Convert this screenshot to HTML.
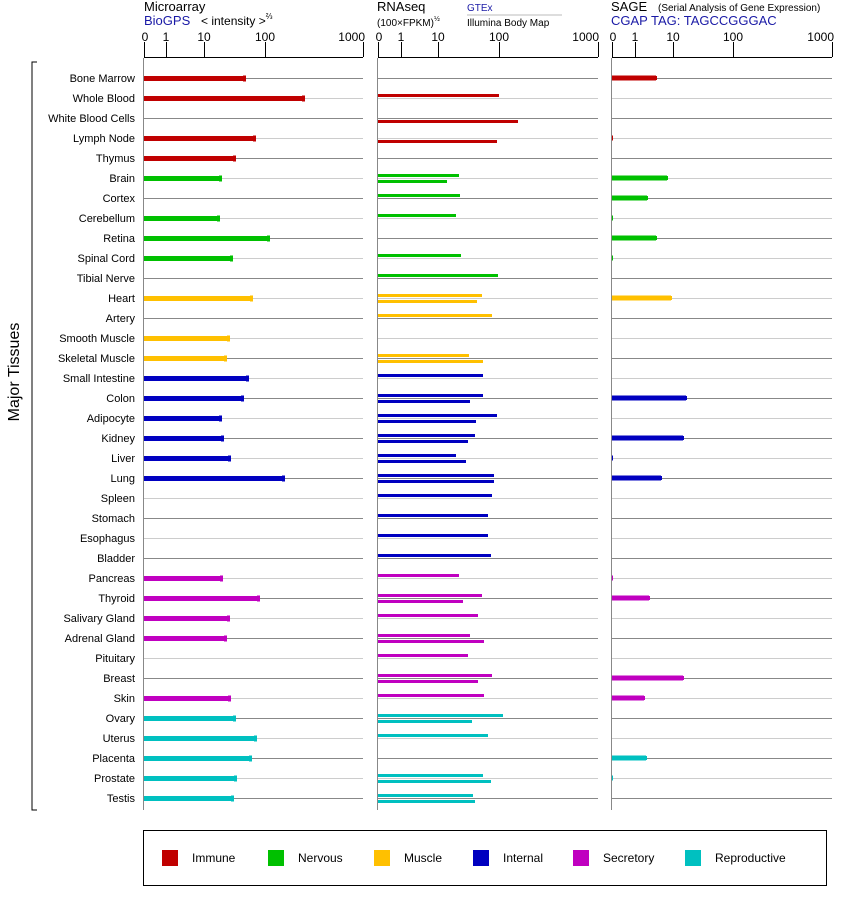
<!DOCTYPE html>
<html><head><meta charset="utf-8"><style>
body{margin:0;background:#fff;}
svg{display:block;font-family:"Liberation Sans",sans-serif;}
</style></head><body>
<svg id="s" width="842" height="900" xmlns="http://www.w3.org/2000/svg">
<rect width="842" height="900" fill="#fff"/>
<g font-size="13" fill="#000">
<text x="144" y="11">Microarray</text>
<text x="144" y="25" fill="#1a1aa6">BioGPS</text>
<text x="201" y="25" font-size="12">&lt; intensity &gt;<tspan font-size="8" dy="-6">⅔</tspan></text>
<text x="377" y="11">RNAseq</text>
<text x="377" y="26" font-size="10">(100×FPKM)<tspan font-size="7" dy="-5">½</tspan></text>
<text x="467" y="11" font-size="10" fill="#1a1aa6">GTEx</text>
<line x1="467" y1="15" x2="562" y2="15" stroke="#bbb"/>
<text x="467" y="26" font-size="10">Illumina Body Map</text>
<text x="611" y="11">SAGE</text>
<text x="658" y="11" font-size="10">(Serial Analysis of Gene Expression)</text>
<text x="611" y="25" fill="#1a1aa6">CGAP TAG: TAGCCGGGAC</text>
</g>
<g font-size="12" text-anchor="middle">
<text x="145" y="41">0</text><text x="166" y="41">1</text><text x="204" y="41">10</text><text x="265" y="41">100</text><text x="365" y="41" text-anchor="end">1000</text>
<text x="379" y="41">0</text><text x="401" y="41">1</text><text x="438" y="41">10</text><text x="499" y="41">100</text><text x="599" y="41" text-anchor="end">1000</text>
<text x="613" y="41">0</text><text x="635" y="41">1</text><text x="673" y="41">10</text><text x="733" y="41">100</text><text x="834" y="41" text-anchor="end">1000</text>
</g>
<g font-size="11" text-anchor="end">
<text x="135" y="82">Bone Marrow</text><text x="135" y="102">Whole Blood</text><text x="135" y="122">White Blood Cells</text><text x="135" y="142">Lymph Node</text><text x="135" y="162">Thymus</text><text x="135" y="182">Brain</text><text x="135" y="202">Cortex</text><text x="135" y="222">Cerebellum</text><text x="135" y="242">Retina</text><text x="135" y="262">Spinal Cord</text><text x="135" y="282">Tibial Nerve</text><text x="135" y="302">Heart</text><text x="135" y="322">Artery</text><text x="135" y="342">Smooth Muscle</text><text x="135" y="362">Skeletal Muscle</text><text x="135" y="382">Small Intestine</text><text x="135" y="402">Colon</text><text x="135" y="422">Adipocyte</text><text x="135" y="442">Kidney</text><text x="135" y="462">Liver</text><text x="135" y="482">Lung</text><text x="135" y="502">Spleen</text><text x="135" y="522">Stomach</text><text x="135" y="542">Esophagus</text><text x="135" y="562">Bladder</text><text x="135" y="582">Pancreas</text><text x="135" y="602">Thyroid</text><text x="135" y="622">Salivary Gland</text><text x="135" y="642">Adrenal Gland</text><text x="135" y="662">Pituitary</text><text x="135" y="682">Breast</text><text x="135" y="702">Skin</text><text x="135" y="722">Ovary</text><text x="135" y="742">Uterus</text><text x="135" y="762">Placenta</text><text x="135" y="782">Prostate</text><text x="135" y="802">Testis</text>
</g>
<text x="0" y="0" font-size="16" text-anchor="middle" transform="translate(19,372) rotate(-90)">Major Tissues</text>
<path d="M37,62 H32 V810 H37" fill="none" stroke="#000"/>
<rect x="143.5" y="830.5" width="683" height="55" fill="none" stroke="#000"/>
<g font-size="12">
<rect x="162" y="850" width="16" height="16" fill="#c00000"/><text x="192" y="862">Immune</text>
<rect x="268" y="850" width="16" height="16" fill="#00c000"/><text x="298" y="862">Nervous</text>
<rect x="374" y="850" width="16" height="16" fill="#ffc000"/><text x="404" y="862">Muscle</text>
<rect x="473" y="850" width="16" height="16" fill="#0000c0"/><text x="503" y="862">Internal</text>
<rect x="573" y="850" width="16" height="16" fill="#c000c0"/><text x="603" y="862">Secretory</text>
<rect x="685" y="850" width="16" height="16" fill="#00c0c0"/><text x="715" y="862">Reproductive</text>
</g>
<g id="g"></g>
</svg>
<script>
var C={I:"#c00000",N:"#00c000",M:"#ffc000",T:"#0000c0",S:"#c000c0",R:"#00c0c0"};
var D=[["I",245,0,0,656],["I",304,499,0,0],["I",0,0,518,0],["I",255,0,497,613],["I",235,0,0,0],
["N",221,459,447,667],["N",0,460,0,647],["N",219,456,0,613],["N",269,0,0,656],["N",232,461,0,613],["N",0,498,0,0],
["M",252,482,477,671],["M",0,492,0,0],["M",229,0,0,0],["M",226,469,483,612],
["T",248,483,0,0],["T",243,483,470,686],["T",221,497,476,0],["T",223,475,468,683],["T",230,456,466,613],["T",284,494,494,661],["T",0,492,0,0],["T",0,488,0,0],["T",0,488,0,0],["T",0,491,0,0],
["S",222,459,0,613],["S",259,482,463,649],["S",229,478,0,0],["S",226,470,484,0],["S",0,468,0,0],["S",0,492,478,683],["S",230,484,0,644],
["R",235,503,472,0],["R",256,488,0,0],["R",251,0,0,646],["R",236,483,491,613],["R",233,473,475,0]];
var h="";
function L(x1,y1,x2,y2,c,w){h+='<line x1="'+x1+'" y1="'+y1+'" x2="'+x2+'" y2="'+y2+'" stroke="'+c+'" stroke-width="'+(w||1)+'"/>';}
function R(x,y,w,hh,c){h+='<rect x="'+x+'" y="'+y+'" width="'+w+'" height="'+hh+'" fill="'+c+'"/>';}
[[144,363,[144,166,204,265,363]],[378,598,[378,401,438,499,598]],[612,832,[612,635,673,733,832]]].forEach(function(a){
 L(a[0],57.5,a[1],57.5,"#000");a[2].forEach(function(t){L(t+.5,42,t+.5,57,"#000");});
 L(a[0]-.5,58,a[0]-.5,810,"#888");
});
D.forEach(function(d,i){
 var y=78+20*i,lc=i%2?"#ccc":"#888",c=C[d[0]];
 L(144,y+.5,363,y+.5,lc);L(378,y+.5,598,y+.5,lc);L(612,y+.5,832,y+.5,lc);
 if(d[1]){R(144,y-2,d[1]-144,5,c);R(d[1]-2,y-2.5,3,6,c);}
 if(d[2])R(378,y-4,d[2]-378,3,c);
 if(d[3])R(378,y+2,d[3]-378,3,c);
 if(d[4]){R(612,y-2.5,d[4]-612,5,c);if(d[4]>616)R(d[4]-1,y-2,2,4,c);}
});
document.getElementById("g").innerHTML=h;
</script>
</body></html>
